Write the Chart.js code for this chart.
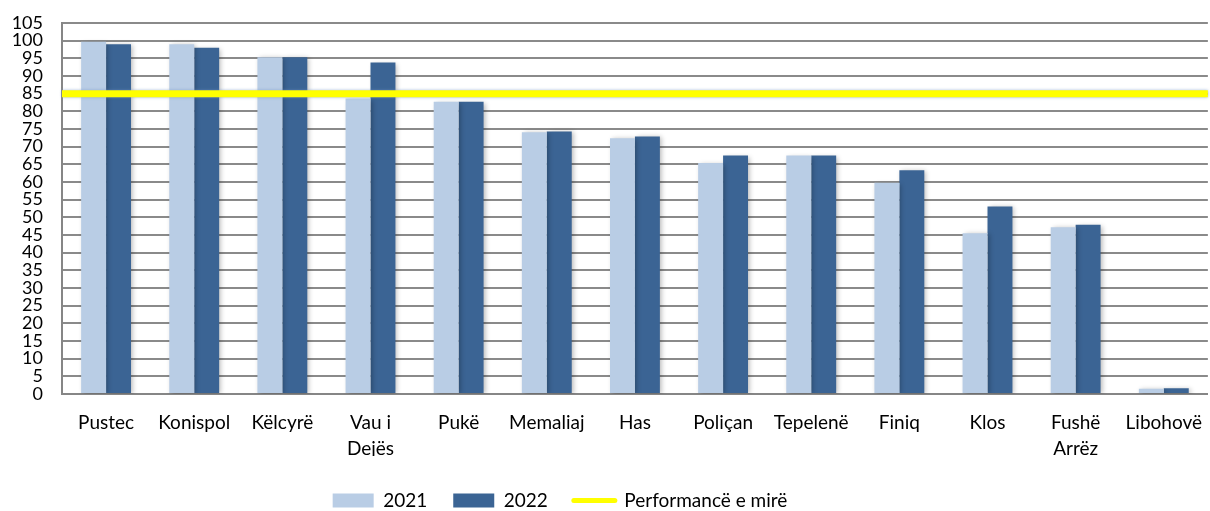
<!DOCTYPE html>
<html>
<head>
<meta charset="utf-8">
<script src="https://cdn.jsdelivr.net/npm/chart.js@4/dist/chart.umd.min.js"></script>
<style>
  body { margin: 0; background: #fff; }
  #wrap { width: 1210px; height: 511px; }
</style>
</head>
<body>
<div id="wrap"><canvas id="chart" width="1210" height="511"></canvas></div>
<script>
const categories = ['Pustec', 'Konispol', 'Këlcyrë', ['Vau i', 'Dejës'], 'Pukë', 'Memaliaj', 'Has',
  'Poliçan', 'Tepelenë', 'Finiq', 'Klos', ['Fushë', 'Arrëz'], 'Libohovë'];
const values2021 = [99.7, 99.0, 95.3, 83.6, 82.7, 74.1, 72.4, 65.4, 67.5, 59.8, 45.5, 47.2, 1.5];
const values2022 = [99.0, 98.0, 95.3, 93.8, 82.7, 74.3, 72.9, 67.5, 67.5, 63.3, 53.1, 47.9, 1.6];
const goodLevel = 85;
const yTicks = [0, 5, 10, 15, 20, 25, 30, 35, 40, 45, 50, 55, 60, 65, 70, 75, 80, 85, 90, 95, 100, 105];
const seriesNames = ['2021', '2022', 'Performancë e mirë'];

// reference line runs across the whole plot: from the left edge of the first
// category to the right edge of the last one (category index -0.5 .. n-0.5)
const goodLine = [
  { x: -0.5, y: goodLevel },
  { x: categories.length - 0.5, y: goodLevel }
];

// soft excel-like shadow under the bars, bluish glow round the yellow line
const shadowPlugin = {
  id: 'shadow',
  beforeDatasetDraw(chart, args) {
    const ctx = chart.ctx;
    ctx.save();
    if (args.meta.type === 'bar') {
      ctx.shadowColor = 'rgba(0,0,0,0.28)';
      ctx.shadowBlur = 5;
      ctx.shadowOffsetX = 2;
      ctx.shadowOffsetY = 1;
    } else {
      ctx.shadowColor = 'rgba(110,145,200,0.7)';
      ctx.shadowBlur = 3;
    }
  },
  afterDatasetDraw(chart) {
    chart.ctx.restore();
  }
};

// legend sits a bit left of centre in the original
const legendShift = {
  id: 'legendShift',
  afterLayout(chart) {
    const lg = chart.legend;
    lg.left -= 45; lg.right -= 45;
    lg.top += 9; lg.bottom += 9;
  }
};

const ctx = document.getElementById('chart').getContext('2d');
new Chart(ctx, {
  type: 'bar',
  data: {
    labels: categories,
    datasets: [
      {
        label: seriesNames[0],
        data: values2021,
        backgroundColor: '#b9cde5',
        categoryPercentage: 0.566,
        barPercentage: 1,
        order: 1
      },
      {
        label: seriesNames[1],
        data: values2022,
        backgroundColor: '#3b6494',
        categoryPercentage: 0.566,
        barPercentage: 1,
        order: 1
      },
      {
        type: 'line',
        label: seriesNames[2],
        data: goodLine,
        parsing: false,
        borderColor: '#ffff00',
        backgroundColor: '#ffff00',
        borderWidth: 7,
        pointRadius: 0,
        order: 0
      }
    ]
  },
  plugins: [shadowPlugin, legendShift],
  options: {
    responsive: false,
    animation: false,
    layout: { padding: { top: 23, right: 0, left: 0, bottom: 0 } },
    plugins: {
      tooltip: { enabled: false },
      legend: {
        position: 'bottom',
        labels: {
          usePointStyle: true,
          pointStyleWidth: 41,
          boxHeight: 14,
          padding: 26,
          color: '#000',
          font: { family: 'Lato', size: 19 },
          generateLabels(chart) {
            return chart.data.datasets.map((ds, i) => ({
              text: ds.label,
              fillStyle: ds.backgroundColor,
              strokeStyle: ds.type === 'line' ? ds.borderColor : ds.backgroundColor,
              lineWidth: ds.type === 'line' ? 5 : 0,
              lineCap: 'round',
              pointStyle: ds.type === 'line' ? 'line' : 'rect',
              fontColor: '#000',
              datasetIndex: i,
              hidden: false
            }));
          }
        }
      }
    },
    scales: {
      x: {
        grid: { display: false },
        border: { display: true, color: '#868686', width: 2 },
        ticks: {
          color: '#000',
          font: { family: 'Lato', size: 19, lineHeight: 1.37 },
          padding: 8,
          maxRotation: 0,
          autoSkip: false
        },
        afterFit(scale) { scale.height = 62; }
      },
      y: {
        min: 0,
        max: 105,
        border: { display: true, color: '#868686', width: 2 },
        grid: { color: '#8a8a8a', lineWidth: 2, drawTicks: false },
        ticks: {
          color: '#000',
          padding: 19,
          autoSkip: false,
          font: { family: 'Lato', size: 18, lineHeight: 1 }
        },
        afterBuildTicks(scale) { scale.ticks = yTicks.map(v => ({ value: v })); },
        afterFit(scale) { scale.width = 62; scale.paddingTop = 0; }
      }
    }
  }
});
</script>
</body>
</html>
